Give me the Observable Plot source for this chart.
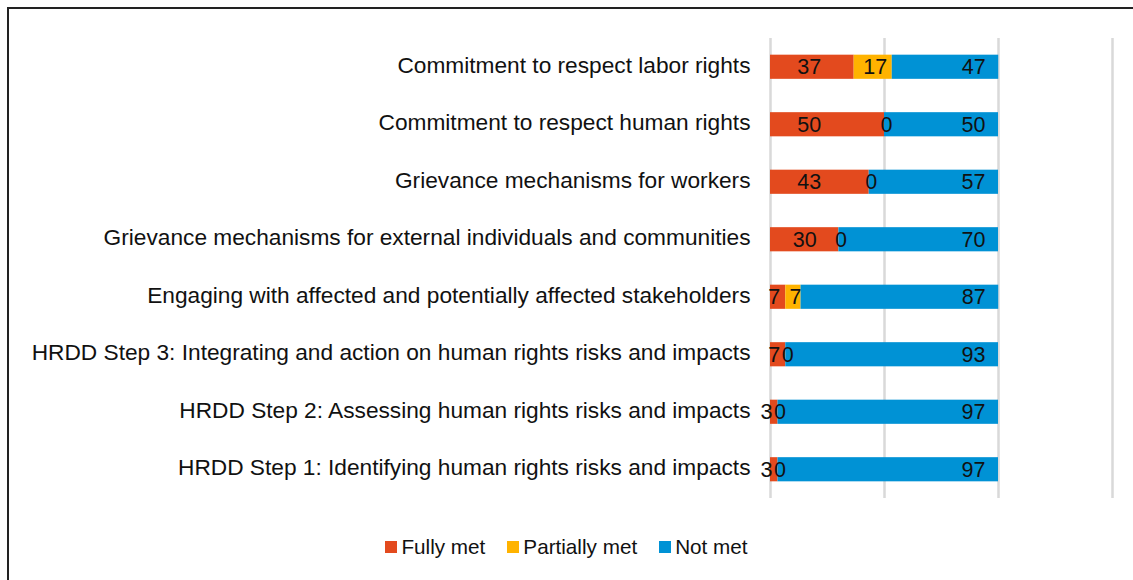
<!DOCTYPE html>
<html>
<head>
<meta charset="utf-8">
<script src="https://cdn.jsdelivr.net/npm/d3@7"></script>
<script src="https://cdn.jsdelivr.net/npm/@observablehq/plot@0.6"></script>
<style>
  html, body { margin: 0; padding: 0; background: #fff; width: 1133px; height: 580px; overflow: hidden; }
  body { position: relative; font-family: "Liberation Sans", Arial, sans-serif; }
  #frame { position: absolute; left: 7px; top: 7px; width: 1140px; height: 590px; border-left: 2px solid #222; border-top: 2px solid #222; box-sizing: border-box; }
  #chart { position: absolute; left: 0; top: 0; }
  #legend { position: absolute; left: 0; width: 1133px; top: 535px; display: flex; justify-content: center; font-size: 20.7px; color: #111; padding-left: 0; }
  #legend .item { display: flex; align-items: center; margin: 0 11px; }
  #legend .sw { width: 12px; height: 12px; margin-right: 4px; display: inline-block; }
</style>
</head>
<body>
<div id="frame"></div>
<div id="chart"></div>
<div id="legend"></div>
<script>
const categories = [
  "Commitment to respect labor rights",
  "Commitment to respect human rights",
  "Grievance mechanisms for workers",
  "Grievance mechanisms for external individuals and communities",
  "Engaging with affected and potentially affected stakeholders",
  "HRDD Step 3: Integrating and action on human rights risks and impacts",
  "HRDD Step 2: Assessing human rights risks and impacts",
  "HRDD Step 1: Identifying human rights risks and impacts"
];
const seriesNames = ["Fully met", "Partially met", "Not met"];
const fullyMet     = [36.7, 50, 43.3, 30, 6.7, 6.7, 3.3, 3.3];
const partiallyMet = [16.7, 0, 0, 0, 6.7, 0, 0, 0];
const notMet       = [46.7, 50, 56.7, 70, 86.7, 93.3, 96.7, 96.7];
const colors = ["#E34A1E", "#FFB300", "#0092D5"];
const xTicks = [0, 50, 100, 150];

const seriesValues = [fullyMet, partiallyMet, notMet];
const rows = [];
categories.forEach((c, i) => {
  seriesNames.forEach((s, k) => {
    rows.push({category: c, series: s, value: seriesValues[k][i], order: k});
  });
});

const labelRows = categories.map((c, i) => {
  const f = fullyMet[i], p = partiallyMet[i], n = notMet[i];
  return {category: c, f, p, n, fx: Math.min(f / 2, 17), px: f + p / 2, end: f + p + n};
});
const bigF = labelRows.filter(d => d.f >= 10);
const smallF = labelRows.filter(d => d.f < 10);

const chart = Plot.plot({
  width: 1133,
  height: 510,
  marginLeft: 770,
  marginRight: 21,
  marginTop: 38,
  marginBottom: 12,
  style: {fontFamily: "'Liberation Sans', Arial, sans-serif", fontSize: "22.7px", color: "#111", background: "transparent"},
  x: {domain: [0, 150], axis: null},
  y: {domain: categories, paddingInner: 0.58, paddingOuter: 0.29, round: false, label: null},
  color: {domain: seriesNames, range: colors},
  marks: [
    Plot.ruleX(xTicks, {stroke: "#d9d9d9", strokeWidth: 2.5}),
    Plot.barX(rows, Plot.stackX({x: "value", y: "category", fill: "series", order: "order"})),
    Plot.axisY({tickSize: 0, tickPadding: 20, fontSize: 22.7, fill: "#111", label: null, dy: -2}),
    Plot.text(bigF, {x: "fx", y: "category", text: d => String(Math.round(d.f)), fontSize: 21.5, fill: "#111"}),
    Plot.text(smallF, {x: "f", y: "category", text: d => String(Math.round(d.f)), fontSize: 21.5, fill: "#111", textAnchor: "end", dx: -5.5}),
    Plot.text(labelRows, {x: "px", y: "category", text: d => String(Math.round(d.p)), fontSize: 21.5, fill: "#111", dx: 2}),
    Plot.text(labelRows, {x: "end", y: "category", text: d => String(Math.round(d.n)), fontSize: 21.5, fill: "#111", textAnchor: "end", dx: -13})
  ]
});
document.getElementById("chart").appendChild(chart);

const legend = document.getElementById("legend");
seriesNames.forEach((s, k) => {
  const item = document.createElement("div");
  item.className = "item";
  item.innerHTML = `<span class="sw" style="background:${colors[k]}"></span><span>${s}</span>`;
  legend.appendChild(item);
});
</script>
</body>
</html>
